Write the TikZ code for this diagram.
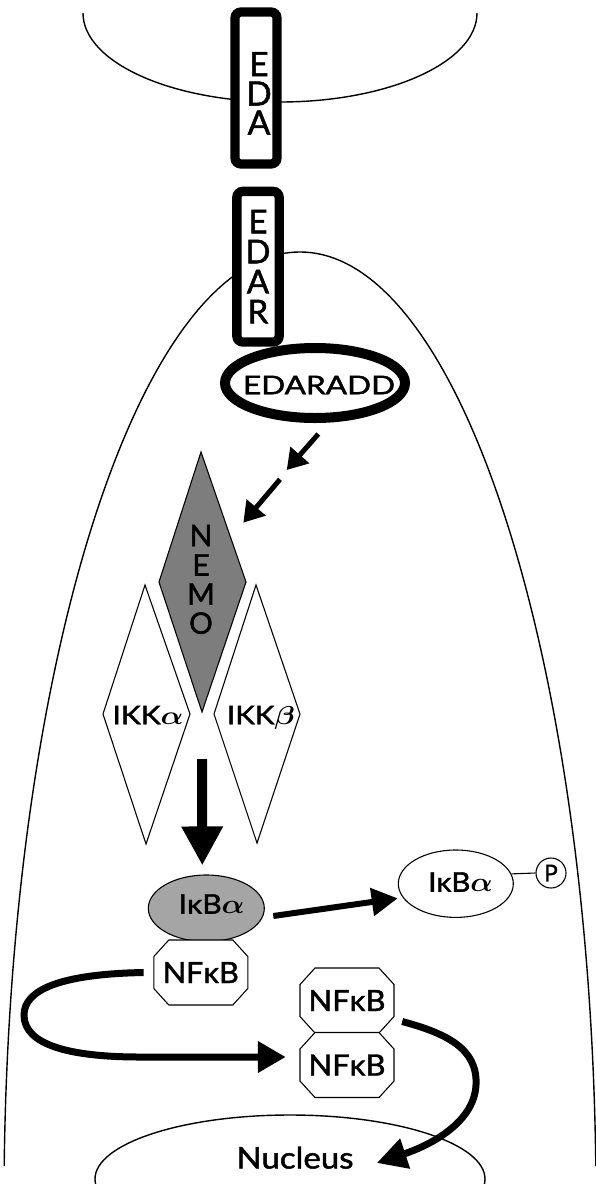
\documentclass[tikz,border=0pt]{standalone}
\usepackage{fontspec}
\setmainfont{Lato}[FakeBold=1.5]
\usepackage{graphicx}
\usepackage{amsbsy}
\usetikzlibrary{arrows.meta,calc,shapes.geometric}
\definecolor{nemogray}{RGB}{125,125,125}
\definecolor{ikbgray}{RGB}{165,165,165}
\newcommand\fitlabel[3]{\resizebox{#1pt}{#2pt}{#3}}
\newcommand\capletter[2]{\resizebox{!}{#1pt}{#2}}
\newcommand\ga{$\boldsymbol{\alpha}$}
\newcommand\gb{$\boldsymbol{\beta}$}
\newcommand\octnode[4]{%
  \draw[outline, fill=white] ({#2-32},{#3-32.5}) -- ({#2+32},{#3-32.5}) -- ({#2+47},{#3-16}) -- ({#2+47},{#3+16}) -- ({#2+32},{#3+32.5}) -- ({#2-32},{#3+32.5}) -- ({#2-47},{#3+16}) -- ({#2-47},{#3-16}) -- cycle;
  \node[lbl, minimum width=94, minimum height=65] (#1) at (#2,#3) {#4};
}
\begin{document}
\begin{tikzpicture}[x=1pt,y=-1pt,
  thinline/.style={line width=1.4pt},
  outline/.style={line width=1.1pt},
  thickbox/.style={draw, line width=9.3pt, rounded corners=6pt, fill=white, inner sep=0pt},
  vlabel/.style={inner sep=0pt, text depth=0pt},
  lbl/.style={inner sep=0pt, text depth=0pt}
]
\useasboundingbox (0,0) rectangle (596,1184);

% cell outline
\begin{scope}
  \clip (0,0) rectangle (596,1165);
  \draw[thinline] (300,1202) ellipse [x radius=296, y radius=950];
\end{scope}
% upper cell membrane
\begin{scope}
  \clip (0,13) rectangle (596,200);
  \draw[thinline] (280,13) ellipse [x radius=197, y radius=89];
\end{scope}
% nucleus
\begin{scope}
  \clip (0,0) rectangle (596,1184);
  \draw[thinline] (290,1179) ellipse [x radius=195, y radius=64];
\end{scope}
\node[lbl] (nuclabel) at (295,1157.5) {\fitlabel{117}{22}{Nucleus}};

% EDA
\node[thickbox, minimum width=42, minimum height=152] (eda) at (256,88) {};
\node[vlabel] (edaE) at (259,64) {\capletter{24}{E}};
\node[vlabel] (edaD) at (259,93.5) {\capletter{24}{D}};
\node[vlabel] (edaA) at (259,122.5) {\capletter{24}{A}};

% EDAR
\node[thickbox, minimum width=42.3, minimum height=150.7] (edar) at (258,266.7) {};
\node[vlabel] (edarE) at (258,221.5) {\capletter{23.5}{E}};
\node[vlabel] (edarD) at (258,251.5) {\capletter{23.5}{D}};
\node[vlabel] (edarA) at (258,281.5) {\capletter{23.5}{A}};
\node[vlabel] (edarR) at (258,311.5) {\capletter{23.5}{R}};

% EDARADD
\node[ellipse, draw, line width=10pt, minimum width=180, minimum height=70, fill=white, inner sep=0pt] (edaradd) at (315,383) {};
\node[lbl] (edaraddtext) at (319,385) {\fitlabel{152}{18.5}{EDARADD}};

% dashed (two-piece) arrow
\coordinate (d1a) at (318.3,434);
\coordinate (d1b) at (286.7,470);
\coordinate (d2a) at (280,479.3);
\coordinate (d2b) at (243.3,522.7);
\draw[line width=5pt, -{Triangle[length=20pt,width=24pt]}] (d1a) -- (d1b);
\draw[line width=5pt, -{Triangle[length=20pt,width=24pt]}] (d2a) -- (d2b);

% NEMO
\draw[outline, fill=nemogray] (201,452) -- (246,582) -- (202,712) -- (159,582) -- cycle;
\node[vlabel] (nemoN) at (201,535.5) {\capletter{21.5}{N}};
\node[vlabel] (nemoE) at (201,565) {\capletter{21.5}{E}};
\node[vlabel] (nemoM) at (201,594) {\capletter{21.5}{M}};
\node[vlabel] (nemoO) at (201,623) {\capletter{21.5}{O}};

% IKK alpha / beta
\draw[outline, fill=white] (145,585) -- (190,714) -- (146,844) -- (103,714) -- cycle;
\draw[outline, fill=white] (256,585) -- (300,714) -- (257,843) -- (214,714) -- cycle;
\node[lbl] (ikkatext) at (148,715) {\fitlabel{71}{18.5}{IKK\ga}};
\node[lbl] (ikkbtext) at (261,715) {\fitlabel{68}{18.5}{IKK\gb}};

% IkBa (bound)
\node[ellipse, draw, outline, fill=ikbgray, minimum width=116, minimum height=66.6, inner sep=0pt] (ikb) at (206.3,908.3) {};
\node[lbl] (ikbtext) at (211.6,904) {\fitlabel{66}{19.5}{Iκ{}B\ga}};

% big arrow
\coordinate (ikkout) at (202,759);
\draw[line width=10pt, -{Triangle[length=39pt,width=39pt]}] (ikkout) -- ([xshift=-4pt,yshift=9pt]ikb.north);

% IkBa-P
\node[ellipse, draw, outline, minimum width=115, minimum height=67.4, inner sep=0pt] (ikbp) at (455.8,883.7) {};
\node[lbl] (ikbptext) at (460.5,882) {\fitlabel{64.5}{19.5}{Iκ{}B\ga}};
\node[circle, draw, outline, minimum size=30, inner sep=0pt] (phos) at (551,873) {\fitlabel{13.5}{16.5}{P}};
\draw[outline] (ikbp.10) -- (phos.west);
\draw[line width=6pt, -{Triangle[length=26pt,width=27pt]}] ([xshift=8.4pt,yshift=-7.7pt]ikb.east) -- ([yshift=-14.6pt]ikbp.west);

% NFkB
\octnode{nf1}{200.8}{972.5}{\fitlabel{76}{21}{NFκ{}B}}
\octnode{nf2}{347}{1000.5}{\fitlabel{77}{21}{NFκ{}B}}
\octnode{nf3}{347}{1065}{\fitlabel{77}{21}{NFκ{}B}}

% curved arrows
\draw[line width=7pt, -{Triangle[length=28pt,width=30pt]}] ([xshift=-10pt]nf1.west) .. controls (60,974) and (24,990) .. (24,1015) .. controls (24,1045) and (70,1057) .. (140,1057) -- ([xshift=-14pt,yshift=8pt]nf3.west);
\draw[line width=7pt, -{Triangle[length=30pt,width=30pt]}] ([xshift=8pt,yshift=-21pt]nf2.east) .. controls (445,1033) and (478,1048) .. (476,1085) .. controls (474,1125) and (425,1147) .. ([xshift=23pt,yshift=-5.5pt]nuclabel.east);
\end{tikzpicture}
\end{document}
